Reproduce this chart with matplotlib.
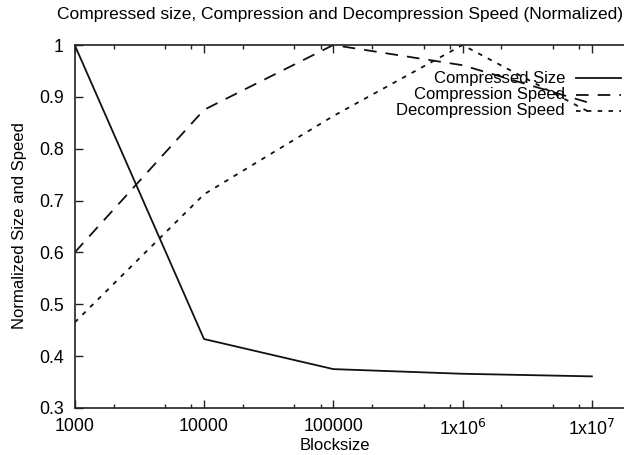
import numpy as np
import matplotlib
matplotlib.use("Agg")
import matplotlib.pyplot as plt
from matplotlib.ticker import LogLocator, FixedLocator, FuncFormatter, NullFormatter

plt.rcParams['font.family'] = ['Liberation Sans', 'DejaVu Sans']

blocksize = [1000, 10000, 100000, 1000000, 10000000]
compressed_size = [1.0, 0.433, 0.375, 0.366, 0.361]
compression_speed = [0.60, 0.875, 1.0, 0.961, 0.887]
decompression_speed = [0.465, 0.712, 0.863, 1.0, 0.868]

series_names = ["Compressed Size", "Compression Speed", "Decompression Speed"]
series = [compressed_size, compression_speed, decompression_speed]
dashes = [None, (7, 5), (2.5, 3.5)]

W, H = 624, 455
fig = plt.figure(figsize=(W / 100, H / 100), dpi=100)
# axes box in pixels (right edge runs off the figure, like the reference)
x0, x1, y0, y1 = 74.7, 630, 408, 45
ax = fig.add_axes([x0 / W, 1 - y0 / H, (x1 - x0) / W, (y0 - y1) / H])

lw = 1.3
for name, vals, d in zip(series_names, series, dashes):
    ln, = ax.plot(blocksize, vals, color='#111111', linewidth=lw, label=name)
    if d is not None:
        ln.set_dashes(d)

ax.set_xscale('log')
ax.set_xlim(1e3, 10 ** 7.295)
ax.set_ylim(0.3, 1.0)

ax.xaxis.set_major_locator(FixedLocator([1e3, 1e4, 1e5, 1e6, 1e7]))
ax.xaxis.set_minor_locator(LogLocator(base=10, subs=[2, 5, 8]))
ax.xaxis.set_minor_formatter(NullFormatter())

def xfmt(v, pos):
    e = int(round(np.log10(v)))
    if e <= 5:
        return "%d" % int(round(v))
    return r"1x10$^{%d}$" % e

ax.xaxis.set_major_formatter(FuncFormatter(xfmt))
ax.set_yticks(np.arange(0.3, 1.01, 0.1))
ax.yaxis.set_major_formatter(FuncFormatter(lambda v, p: ("%g" % round(v, 1))))

ax.tick_params(which='both', direction='in', top=True, right=False, labelsize=12.8,
               width=1.0, color='#222222')
ax.tick_params(which='major', length=6)
ax.tick_params(which='minor', length=3)
ax.tick_params(axis='x', pad=7.5)
ax.tick_params(axis='y', pad=8)
for s in ['left', 'bottom', 'top']:
    ax.spines[s].set_linewidth(1.2)
    ax.spines[s].set_color('#222222')
ax.spines['right'].set_visible(False)

fig.text(335 / W, 1 - 446 / H, "Blocksize", ha='center', va='center', fontsize=12)
fig.text(20 / W, 1 - 226 / H, "Normalized Size and Speed", ha='center', va='center',
         rotation=90, fontsize=12)
fig.text(340 / W, 1 - 15 / H,
         "Compressed size, Compression and Decompression Speed (Normalized)",
         ha='center', va='center', fontsize=12.5)

# gnuplot style key: text right-justified, sample to the right
key_rows = [78, 95, 111]
for name, d, yr in zip(series_names, dashes, key_rows):
    fig.text(565 / W, 1 - yr / H, name, ha='right', va='center', fontsize=12)
    kl = plt.Line2D([576 / W, 621 / W], [1 - yr / H, 1 - yr / H], transform=fig.transFigure,
                    color='#111111', linewidth=lw)
    if d is not None:
        kl.set_dashes(d)
    fig.add_artist(kl)

fig.savefig("out.png", dpi=100)
